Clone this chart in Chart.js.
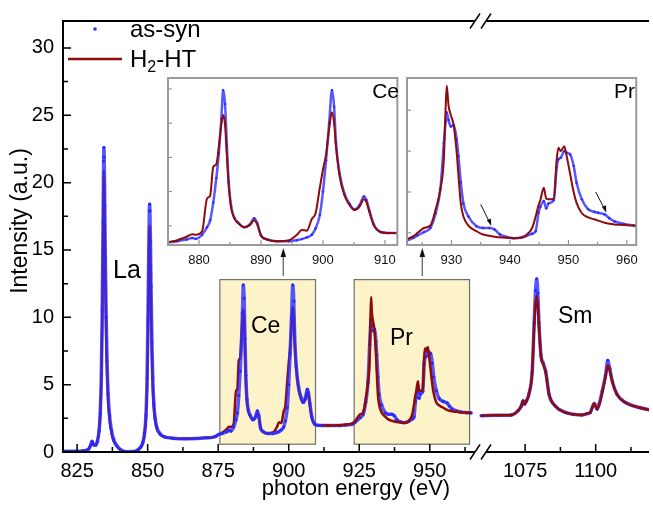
<!DOCTYPE html>
<html>
<head>
<meta charset="utf-8">
<script src="https://cdn.jsdelivr.net/npm/chart.js@4.4.1/dist/chart.umd.min.js"></script>
<style>
  html, body { margin: 0; padding: 0; background: #fff; }
  #wrap { position: relative; width: 653px; height: 506px; overflow: hidden; }
  #wrap canvas, #wrap svg { position: absolute; }
  #main { left: 0; top: 0; }
  #ceInset { left: 158px; top: 68px; }
  #prInset { left: 400px; top: 68px; }
  #overlay { left: 0; top: 0; pointer-events: none; }
  svg text { font-family: "Liberation Sans", Arial, sans-serif; fill: #000; }
</style>
</head>
<body>
<div id="wrap">
  <canvas id="main" width="653" height="506"></canvas>
  <canvas id="ceInset" width="246" height="200"></canvas>
  <canvas id="prInset" width="246" height="200"></canvas>
  <svg id="overlay" width="653" height="506" viewBox="0 0 653 506">
    <!-- y axis title -->
    <text transform="translate(27,221) rotate(-90)" text-anchor="middle" font-size="23">Intensity (a.u.)</text>
    <!-- legend -->
    <circle cx="95" cy="29" r="1.8" fill="#2a2aff"></circle>
    <text x="130" y="37" font-size="24">as-syn</text>
    <line x1="68" y1="59" x2="122" y2="59" stroke="#8f0a0a" stroke-width="2.5"></line>
    <text x="130" y="67" font-size="24">H<tspan font-size="16" dy="5">2</tspan><tspan dy="-5">-HT</tspan></text>
    <!-- element labels -->
    <text x="113" y="278" font-size="25">La</text>
    <text x="251" y="333" font-size="23">Ce</text>
    <text x="390" y="345" font-size="23">Pr</text>
    <text x="558" y="323" font-size="23">Sm</text>
    <text x="399" y="98" font-size="21" text-anchor="end">Ce</text>
    <text x="635" y="98" font-size="21" text-anchor="end">Pr</text>
    <!-- arrows from boxes to insets -->
    <line x1="283.3" y1="276" x2="283.3" y2="255" stroke="#666" stroke-width="1.3"></line>
    <polygon points="283.3,248 280.5,257 286.1,257" fill="#111"></polygon>
    <line x1="422.3" y1="276" x2="422.3" y2="255" stroke="#666" stroke-width="1.3"></line>
    <polygon points="422.3,248 419.5,257 425.1,257" fill="#111"></polygon>
    <!-- arrows in Pr inset -->
    <line x1="480.7" y1="204.3" x2="489.8" y2="222.9" stroke="#111" stroke-width="1"></line>
    <polygon points="491.3,226 486.8,220.3 490.9,218.5" fill="#111"></polygon>
    <line x1="595.7" y1="192" x2="604.8" y2="209.6" stroke="#111" stroke-width="1"></line>
    <polygon points="606.3,212.7 601.9,207.1 606,205.2" fill="#111"></polygon>
  </svg>
</div>
<script>
// La M-edge region (eV, a.u.)
const laEnergy = [820, 824, 827, 829, 829.8, 830.3, 830.8, 831.5, 832.2, 832.8,
  833.2, 833.6, 833.9, 834.2, 834.4, 834.5, 834.6, 834.8, 835.0, 835.3,
  835.6, 836.0, 836.5, 837.2, 838, 839, 840.5, 842.5, 845, 846.5,
  847.5, 848.3, 848.9, 849.4, 849.8, 850.1, 850.4, 850.6, 850.7, 850.8,
  851.0, 851.2, 851.5, 851.8, 852.2, 852.7, 853.3, 854.5, 856, 859,
  863, 867, 871, 874];
const laAsSyn = [0.05, 0.05, 0.08, 0.2, 0.5, 0.8, 0.55, 0.5, 0.8, 1.6,
  2.9, 5.8, 10.5, 17, 21.6, 22.6, 21.9, 18.3, 14.5, 10,
  6.8, 4.3, 2.7, 1.6, 0.9, 0.5, 0.15, 0.02, 0.03, 0.15,
  0.35, 0.7, 1.4, 2.7, 5.5, 9.8, 15, 17.9, 18.4, 17.9,
  15.6, 12.3, 8.2, 5.6, 3.6, 2.45, 1.8, 1.32, 1.12, 1.02,
  0.98, 1.0, 1.05, 1.15];
const laH2HT = [0.05, 0.05, 0.08, 0.2, 0.5, 0.8, 0.55, 0.5, 0.8, 1.6,
  2.8, 5.4, 9.5, 15.5, 20.0, 20.9, 20.2, 16.5, 13.0, 8.8,
  6, 3.8, 2.4, 1.4, 0.8, 0.45, 0.15, 0.02, 0.03, 0.15,
  0.35, 0.7, 1.3, 2.5, 4.9, 8.5, 13.5, 16.4, 16.8, 16.3,
  14, 11, 7.3, 4.9, 3.3, 2.3, 1.7, 1.3, 1.12, 1.02,
  0.98, 1.0, 1.05, 1.15];

// Ce region
const ceEnergy = [875, 876.5, 878, 878.9, 879.5, 880.5, 881.3, 881.8, 882.3, 882.8,
  883.2, 883.6, 883.9, 884.2, 884.5, 884.8, 885.2, 885.7, 886.3, 887.3,
  888.2, 888.9, 889.4, 890.0, 891.0, 892.5, 894.5, 895.8, 896.6, 897.4,
  898.2, 898.8, 899.5, 900.0, 900.5, 901.0, 901.45, 901.8, 902.1, 902.7,
  903.5, 904.3, 905.1, 905.9, 906.6, 907.0, 907.5, 908.2, 909.3, 910.5,
  912];
const ceAsSyn = [1.28, 1.38, 1.5, 1.62, 1.55, 1.85, 2.4, 2.9, 4.2, 6.0,
  7.8, 10.3, 12.4, 11.4, 8.4, 5.7, 3.9, 3.1, 2.75, 2.4,
  2.6, 3.05, 2.7, 1.8, 1.5, 1.38, 1.38, 1.45, 1.53, 1.65,
  1.85, 2.3, 3.3, 5.0, 7.3, 10.0, 12.4, 11.2, 8.6, 6.3,
  4.8, 4.1, 3.7, 4.0, 4.65, 4.4, 3.6, 2.6, 2.05, 1.98,
  1.97];
const ceH2HT = [1.3, 1.45, 1.7, 1.88, 1.85, 2.1, 4.5, 4.7, 6.8, 7.0,
  8.3, 9.9, 10.6, 9.9, 7.6, 5.4, 3.8, 3.05, 2.7, 2.4,
  2.55, 2.9, 2.6, 1.8, 1.5, 1.38, 1.45, 1.85, 2.2, 2.15,
  3.0, 3.4, 5.3, 6.6, 7.7, 9.6, 10.8, 10.0, 8.3, 6.1,
  4.7, 4.0, 3.65, 3.9, 4.45, 4.25, 3.5, 2.55, 2.05, 1.98,
  1.97];

// Pr region
const prEnergy = [914, 918, 920, 922.4, 923.5, 924.2, 925.3, 926.4, 927.3, 928.1,
  928.7, 929.0, 929.2, 929.5, 929.9, 930.4, 930.9, 931.2, 931.6, 932.05,
  932.9, 934.3, 935.4, 936.5, 937.4, 938.3, 939.4, 940.7, 942.0, 942.7,
  943.8, 944.4, 944.9, 945.2, 945.8, 946.2, 946.6, 947.5, 948.0, 948.3,
  948.7, 949.3, 949.7, 950.3, 950.9, 951.4, 952.3, 953.4, 954.5, 955.1,
  956.2, 957.0, 957.9, 959.5, 961.2, 963, 964.7];
const prAsSyn = [1.96, 1.97, 2.0, 2.05, 2.2, 2.35, 2.55, 2.8, 3.7, 5.16,
  8.0, 9.3, 9.86, 9.4, 9.0, 9.1, 8.2, 7.2, 5.6, 4.3,
  3.5, 2.9, 2.8, 2.8, 2.7, 2.4, 2.25, 2.18, 2.22, 2.3,
  2.45, 2.6, 3.73, 4.1, 4.45, 4.0, 4.3, 4.5, 6.5, 7.0,
  7.1, 7.5, 7.4, 7.3, 6.6, 5.57, 4.55, 3.94, 3.78, 3.73,
  3.63, 3.4, 3.2, 3.05, 2.96, 2.92, 2.9];
const prH2HT = [1.96, 1.98, 2.02, 2.13, 2.3, 2.5, 2.8, 2.95, 3.94, 5.16,
  7.0, 10.1, 11.5, 10.3, 9.7, 9.05, 7.4, 6.0, 4.3, 3.5,
  2.95, 2.6, 2.4, 2.32, 2.27, 2.23, 2.2, 2.18, 2.22, 2.34,
  2.8, 3.5, 4.2, 4.5, 5.26, 4.6, 4.55, 4.6, 7.0, 7.7,
  7.5, 7.8, 7.2, 6.1, 5.0, 4.34, 3.7, 3.45, 3.32, 3.25,
  3.12, 3.06, 3.02, 2.98, 2.94, 2.92, 2.9];

// Sm region (after the axis break)
const smEnergy = [1059.4, 1065, 1070.1, 1072.5, 1073.6, 1074.3, 1074.8, 1075.5, 1076.3, 1077.5,
  1078.2, 1078.7, 1079.1, 1079.5, 1079.9, 1080.6, 1081.4, 1082.3, 1083.5, 1085.6,
  1089.2, 1092, 1095.1, 1097, 1098.1, 1099.5, 1100.5, 1101.3, 1102.3, 1103.5,
  1104.3, 1105.0, 1105.9, 1107.6, 1110.6, 1115.4, 1120];
const smAsSyn = [2.7, 2.72, 2.75, 3.07, 3.4, 3.8, 3.55, 3.8, 4.27, 5.96,
  9.6, 12.0, 12.85, 11.8, 9.6, 7.2, 6.6, 5.96, 4.27, 3.43,
  2.94, 2.8, 2.75, 2.85, 2.94, 3.6, 3.19, 3.6, 4.5, 5.7,
  6.8, 6.2, 5.24, 4.27, 3.67, 3.3, 3.1];
const smH2HT = [2.7, 2.72, 2.75, 3.07, 3.4, 3.8, 3.55, 3.8, 4.27, 5.96,
  9.3, 11.0, 11.6, 10.9, 9.3, 7.1, 6.5, 5.9, 4.25, 3.43,
  2.94, 2.8, 2.75, 2.85, 2.94, 3.6, 3.19, 3.55, 4.4, 5.6,
  6.45, 6.0, 5.2, 4.25, 3.67, 3.3, 3.1];

// tick marks
const mainXTicks = [825, 837.5, 850, 862.5, 875, 887.5, 900, 912.5, 925, 937.5, 950, 962.5,
  1075, 1087.5, 1100, 1112.5];
const mainYTicks = [0, 2.5, 5, 7.5, 10, 12.5, 15, 17.5, 20, 22.5, 25, 27.5, 30];
const ceXTicks = [880, 885, 890, 895, 900, 905, 910];
const ceYTicks = [2.5, 5, 7.5, 10, 12.5];
const prXTicks = [925, 930, 935, 940, 945, 950, 955, 960];
const prYTicks = [2.5, 5, 7.5, 10];

const BREAK_SHIFT = 91.2;   // energies above the break are drawn shifted left by this much
const FONT = '"Liberation Sans", Arial, sans-serif';
const BLUE = '#2a2aff';
const RED = '#8f0a0a';

function toPoints(energies, values) {
  return energies.map((e, i) => ({ x: e > 1000 ? e - BREAK_SHIFT : e, y: values[i] }));
}

const tickMarks = {
  id: 'tickMarks',
  afterDatasetsDraw(chart, args, o) {
    const { ctx, chartArea: { left, bottom } } = chart;
    const xs = chart.scales.x, ys = chart.scales.y;
    ctx.save();
    ctx.strokeStyle = o.color;
    ctx.lineWidth = o.width;
    ctx.beginPath();
    xs.ticks.forEach(t => {
      const px = xs.getPixelForValue(t.value);
      const len = t.label !== '' ? o.major : o.minor;
      ctx.moveTo(px, bottom);
      ctx.lineTo(px, bottom - len);
    });
    ys.ticks.forEach(t => {
      const py = ys.getPixelForValue(t.value);
      const len = o.yLen || (t.label !== '' ? o.major : o.minor);
      ctx.moveTo(left, py);
      ctx.lineTo(left + len, py);
    });
    ctx.stroke();
    ctx.restore();
  }
};

const brokenFrame = {
  id: 'brokenFrame',
  afterDraw(chart, args, o) {
    const { ctx, chartArea: { left, right, top, bottom } } = chart;
    ctx.save();
    ctx.strokeStyle = '#000';
    ctx.lineWidth = 2;
    ctx.beginPath();
    ctx.moveTo(left, top - 1);
    ctx.lineTo(left, bottom + 1);
    [top, bottom].forEach(y => {
      ctx.moveTo(left, y);
      ctx.lineTo(o.gapStart, y);
      ctx.moveTo(o.gapEnd, y);
      ctx.lineTo(right, y);
    });
    ctx.stroke();
    ctx.lineWidth = 1.5;
    ctx.beginPath();
    [top, bottom].forEach(y => {
      [o.gapStart - 5, o.gapStart + 6].forEach(x0 => {
        ctx.moveTo(x0, y + 7.5);
        ctx.lineTo(x0 + 10, y - 7.5);
      });
    });
    ctx.stroke();
    ctx.restore();
  }
};

const regionBoxes = {
  id: 'regionBoxes',
  beforeDatasetsDraw(chart, args, o) {
    const { ctx, scales: { x, y } } = chart;
    ctx.save();
    o.boxes.forEach(b => {
      const x0 = x.getPixelForValue(b.from), x1 = x.getPixelForValue(b.to);
      const y0 = y.getPixelForValue(b.top), y1 = y.getPixelForValue(b.bottom);
      ctx.fillStyle = o.fill;
      ctx.fillRect(x0, y0, x1 - x0, y1 - y0);
      ctx.strokeStyle = o.stroke;
      ctx.lineWidth = 1.2;
      ctx.strokeRect(x0, y0, x1 - x0, y1 - y0);
    });
    ctx.restore();
  }
};

const insetFrame = {
  id: 'insetFrame',
  beforeDraw(chart) {
    const { ctx, chartArea: a } = chart;
    ctx.save();
    ctx.fillStyle = '#fff';
    ctx.fillRect(a.left, a.top, a.width, a.height);
    ctx.restore();
  },
  afterDraw(chart) {
    const { ctx, chartArea: a } = chart;
    ctx.save();
    ctx.strokeStyle = '#9a9a9a';
    ctx.lineWidth = 2;
    ctx.strokeRect(a.left, a.top, a.width, a.height);
    ctx.restore();
  }
};

function blueSet(label, data, order, width, radius) {
  return { label, data, order, borderColor: 'rgba(45,45,255,0.8)', borderWidth: width,
    pointRadius: radius, pointBackgroundColor: BLUE, pointBorderWidth: 0,
    cubicInterpolationMode: 'monotone' };
}
function redSet(label, data, order, width) {
  return { label, data, order, borderColor: RED, borderWidth: width, pointRadius: 0,
    cubicInterpolationMode: 'monotone' };
}

const lowEnergy = laEnergy.concat(ceEnergy);
const lowH2HT = laH2HT.concat(ceH2HT);
const leftEnergy = lowEnergy.concat(prEnergy);
const leftAsSyn = laAsSyn.concat(ceAsSyn, prAsSyn);

new Chart(document.getElementById('main'), {
  type: 'line',
  data: {
    datasets: [
      redSet('H₂-HT Sm', toPoints(smEnergy, smH2HT), 0, 2.5),
      blueSet('as-syn Sm', toPoints(smEnergy, smAsSyn), 1, 3.5, 1.6),
      redSet('H₂-HT Pr', toPoints([ceEnergy[ceEnergy.length - 1]].concat(prEnergy),
        [ceH2HT[ceH2HT.length - 1]].concat(prH2HT)), 2, 2.5),
      blueSet('as-syn', toPoints(leftEnergy, leftAsSyn), 3, 3.5, 1.6),
      redSet('H₂-HT', toPoints(lowEnergy, lowH2HT), 4, 2.5)
    ]
  },
  options: {
    responsive: false,
    devicePixelRatio: 1,
    animation: false,
    events: [],
    layout: { padding: { top: 10, right: 0, left: 0, bottom: 0 } },
    plugins: {
      legend: { display: false },
      tooltip: { enabled: false },
      tickMarks: { color: '#000', width: 1.5, major: 8, minor: 5 },
      brokenFrame: { gapStart: 475, gapEnd: 486 },
      regionBoxes: {
        fill: '#fcf3c8', stroke: '#707070',
        boxes: [
          { from: 875.6, to: 909.5, top: 12.8, bottom: 0.58 },
          { from: 923.2, to: 964.1, top: 12.8, bottom: 0.58 }
        ]
      }
    },
    scales: {
      x: {
        type: 'linear', min: 820, max: 1027.7,
        border: { display: false },
        grid: { display: false, drawTicks: false },
        afterBuildTicks: s => { s.ticks = mainXTicks.map(e => ({ value: e > 1000 ? e - BREAK_SHIFT : e })); },
        afterFit: s => { s.height = 54; },
        ticks: {
          autoSkip: false, maxRotation: 0, padding: 7, color: '#000',
          font: { family: FONT, size: 20 },
          callback: (v, i) => (mainXTicks[i] % 25 === 0 ? String(mainXTicks[i]) : '')
        },
        title: { display: true, text: 'photon energy (eV)', color: '#000',
          font: { family: FONT, size: 22 }, padding: { top: 0, bottom: 4 } }
      },
      y: {
        type: 'linear', min: 0, max: 32,
        border: { display: false },
        grid: { display: false, drawTicks: false },
        afterBuildTicks: s => { s.ticks = mainYTicks.map(v => ({ value: v })); },
        afterFit: s => { s.width = 63; },
        ticks: {
          padding: 9, color: '#000',
          font: { family: FONT, size: 20 },
          callback: (v, i) => (mainYTicks[i] % 5 === 0 ? String(mainYTicks[i]) : '')
        }
      }
    }
  },
  plugins: [regionBoxes, tickMarks, brokenFrame]
});

function makeInset(id, energies, asSyn, h2, xMin, xMax, yMin, yMax, xTicks, yTicks, axisWidth, padRight) {
  new Chart(document.getElementById(id), {
    type: 'line',
    data: {
      datasets: [
        redSet('H₂-HT', toPoints(energies, h2), 0, 2),
        blueSet('as-syn', toPoints(energies, asSyn), 1, 2.5, 1.2)
      ]
    },
    options: {
      responsive: false,
      devicePixelRatio: 1,
      animation: false,
      events: [],
      layout: { padding: { top: 10, right: padRight, left: 0, bottom: 0 } },
      plugins: {
        legend: { display: false },
        tooltip: { enabled: false },
        tickMarks: { color: '#808080', width: 1, major: 5, minor: 3, yLen: 4 }
      },
      scales: {
        x: {
          type: 'linear', min: xMin, max: xMax,
          border: { display: false },
          grid: { display: false, drawTicks: false },
          afterBuildTicks: s => { s.ticks = xTicks.map(v => ({ value: v })); },
          afterFit: s => { s.height = 23; },
          ticks: {
            autoSkip: false, maxRotation: 0, padding: 8, color: '#111',
            font: { family: FONT, size: 13 },
            callback: (v, i) => (xTicks[i] % 10 === 0 ? String(xTicks[i]) : '')
          }
        },
        y: {
          type: 'linear', min: yMin, max: yMax,
          border: { display: false },
          grid: { display: false, drawTicks: false },
          afterBuildTicks: s => { s.ticks = yTicks.map(v => ({ value: v })); },
          afterFit: s => { s.width = axisWidth; },
          ticks: { display: false }
        }
      }
    },
    plugins: [insetFrame, tickMarks]
  });
}

makeInset('ceInset', ceEnergy, ceAsSyn, ceH2HT, 875, 912, 1.1, 13.3, ceXTicks, ceYTicks, 10, 2);
makeInset('prInset', prEnergy, prAsSyn, prH2HT, 922.4, 961.6, 1.76, 11.97, prXTicks, prYTicks, 7, 7);
</script>
</body>
</html>
